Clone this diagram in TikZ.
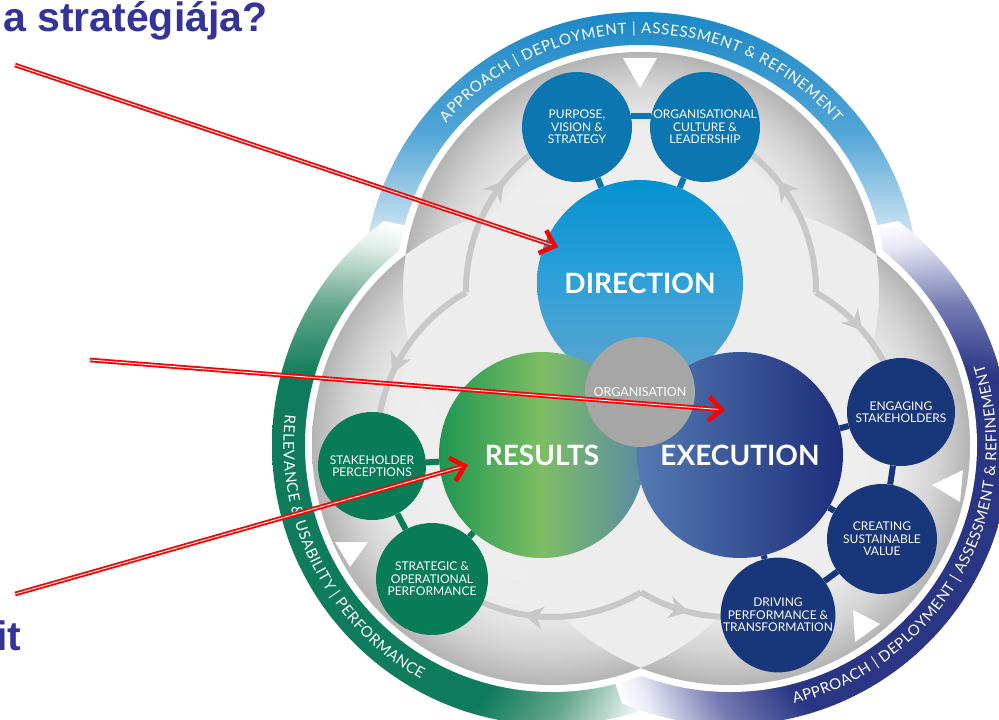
\documentclass[tikz,border=0pt]{standalone}
\usepackage{fontspec}
\setmainfont{Liberation Sans}
\newfontfamily\lato{Lato}
\usetikzlibrary{arrows.meta,decorations.text,decorations.markings}

\definecolor{titleblue}{RGB}{51,51,153}
\definecolor{bandblue}{RGB}{26,136,198}
\definecolor{bandbluemid}{RGB}{80,164,214}
\definecolor{bandbluelow}{RGB}{228,238,247}
\definecolor{bandgreen}{RGB}{14,124,92}
\definecolor{bandgreenmid}{RGB}{100,166,140}
\definecolor{bandgreenlow}{RGB}{228,240,235}
\definecolor{bandnavy}{RGB}{42,54,132}
\definecolor{bandnavymid}{RGB}{116,122,178}
\definecolor{bandnavylow}{RGB}{232,233,245}
\definecolor{discbase}{RGB}{237,237,237}
\definecolor{discin}{RGB}{244,244,244}
\definecolor{discmid}{RGB}{238,238,238}
\definecolor{discrim}{RGB}{212,212,212}
\definecolor{discout}{RGB}{180,180,180}
\definecolor{pblue}{RGB}{12,118,176}
\definecolor{pgreen}{RGB}{8,124,86}
\definecolor{pnavy}{RGB}{24,54,122}
\definecolor{armgrey}{RGB}{200,200,200}
\definecolor{orggrey}{RGB}{167,166,166}
\definecolor{dirtop}{RGB}{4,146,208}
\definecolor{dirmid}{RGB}{48,160,216}
\definecolor{dirbot}{RGB}{96,164,204}
\definecolor{resleft}{RGB}{30,150,80}
\definecolor{resmid}{RGB}{125,190,100}
\definecolor{resright}{RGB}{90,138,166}
\definecolor{exeleft}{RGB}{84,122,178}
\definecolor{exeright}{RGB}{30,46,124}

% radial shadings: the path's box is mapped on the inner 50bp, so 25bp is the rim
\pgfdeclareradialshading{discshade}{\pgfpoint{0bp}{0bp}}{color(0bp)=(discin); color(12bp)=(discmid); color(17bp)=(discbase); color(21.5bp)=(discrim); color(25bp)=(discout); color(50bp)=(discout)}
\pgfdeclareradialshading{gbandshade}{\pgfpoint{0bp}{0bp}}{color(0bp)=(bandgreen); color(14bp)=(bandgreen); color(18.8bp)=(bandgreenmid); color(23.3bp)=(bandgreenlow); color(25bp)=(white); color(50bp)=(white)}
\pgfdeclareradialshading{nbandshade}{\pgfpoint{0bp}{0bp}}{color(0bp)=(bandnavy); color(14bp)=(bandnavy); color(18.8bp)=(bandnavymid); color(23.3bp)=(bandnavylow); color(25bp)=(white); color(50bp)=(white)}

\newcommand\bandfont{\lato\fontsize{15}{15}\selectfont}

\begin{document}
\begin{tikzpicture}[x=1pt,y=-1pt,
  bigc/.style={circle,minimum size=206pt,inner sep=0pt,text=white,font=\lato\bfseries\fontsize{28}{28}\selectfont},
  smallc/.style={circle,minimum size=110pt,inner sep=0pt,text=white,align=center,font=\lato\fontsize{12}{12.5}\selectfont},
  link/.style={line width=6pt},
  greyarm/.style={draw=armgrey,line width=6pt},
  tipat/.style={postaction={decorate},decoration={markings,mark=at position #1 with {\arrow[armgrey]{Stealth[length=20pt,width=22pt,inset=6pt]}}}},
  bandtext/.style={decorate,decoration={text along path,text format delimiters={[}{]},text color=white,text align=fit to path,text={[\bandfont]#1}}},
  redarrow/.style={draw=red,line width=4.6pt,-{Straight Barb[length=13pt,width=24pt]}},
  redcore/.style={draw=white,line width=.9pt,shorten >=7pt},
  ]
 \useasboundingbox (0,0) rectangle (999,720);
 \coordinate (T) at (641,290);
 \coordinate (G) at (552,445);
 \coordinate (N) at (730,445);
 % outer bands
 \begin{scope}
  \clip (T) circle (278);
  \shade[top color=bandblue,bottom color=bandbluelow,middle color=bandbluemid] (340,10) rectangle (940,250);
 \end{scope}
 \begin{scope}
  \clip (G) circle (280);
  \shade[shading=gbandshade] (323,576) circle (360);
 \end{scope}
 \begin{scope}
  \clip (N) circle (280);
  \shade[shading=nbandshade] (959,576) circle (360);
 \end{scope}
 \fill[white] (T) circle (245) (G) circle (247) (N) circle (247);
 % grey discs: flat base, each rim only outside the other two discs
 \fill[discbase] (T) circle (238) (G) circle (240) (N) circle (240);
 \begin{scope}
  \clip (-100,-100) -- (1100,-100) -- (1100,820) -- (-100,820) -- cycle (792,445) arc[start angle=0,end angle=-360,radius=240];
  \clip (-100,-100) -- (1100,-100) -- (1100,820) -- (-100,820) -- cycle (970,445) arc[start angle=0,end angle=-360,radius=240];
  \shade[shading=discshade] (T) circle (238);
 \end{scope}
 \begin{scope}
  \clip (-100,-100) -- (1100,-100) -- (1100,820) -- (-100,820) -- cycle (879,290) arc[start angle=0,end angle=-360,radius=238];
  \clip (-100,-100) -- (1100,-100) -- (1100,820) -- (-100,820) -- cycle (970,445) arc[start angle=0,end angle=-360,radius=240];
  \shade[shading=discshade] (G) circle (240);
 \end{scope}
 \begin{scope}
  \clip (-100,-100) -- (1100,-100) -- (1100,820) -- (-100,820) -- cycle (879,290) arc[start angle=0,end angle=-360,radius=238];
  \clip (-100,-100) -- (1100,-100) -- (1100,820) -- (-100,820) -- cycle (792,445) arc[start angle=0,end angle=-360,radius=240];
  \shade[shading=discshade] (N) circle (240);
 \end{scope}
 % grey arrows
 \draw[greyarm,tipat=.57,shift={(T)}] (179.2:175) arc[start angle=179.2,end angle=248.6,radius=175];
 \draw[greyarm,tipat=.54,shift={(G)}] (240.6:175) arc[start angle=240.6,end angle=173.3,radius=175];
 \draw[greyarm,tipat=.57,shift={(T)}] (0.8:175) arc[start angle=0.8,end angle=-68.6,radius=175];
 \draw[greyarm,tipat=.40,shift={(N)}] (-60.6:175) arc[start angle=-60.6,end angle=-10.9,radius=175];
 \draw[greyarm,tipat=.56,shift={(G)}] (58.9:172) arc[start angle=58.9,end angle=131.8,radius=172];
 \draw[greyarm,tipat=.37,shift={(N)}] (121.1:172) arc[start angle=121.1,end angle=74.2,radius=172];
 % white triangles
 \fill[white] (623,58) -- (657,58) -- (640,88) -- cycle;
 \fill[white] (335,542) -- (368,542) -- (350,567) -- cycle;
 \fill[white] (963,470) -- (960,502) -- (932,485) -- cycle;
 \fill[white] (853,610) -- (855,642) -- (880,624) -- cycle;
 % big circles
 \node[bigc,shade,top color=dirtop,bottom color=dirbot,middle color=dirmid] (dir) at (640,283) {DIRECTION};
 \node[bigc,shade,left color=resleft,right color=resright,middle color=resmid] (res) at (542,455) {RESULTS};
 \node[bigc,shade,left color=exeleft,right color=exeright] (exe) at (740,455) {EXECUTION};
 \node[circle,minimum size=110pt,inner sep=0pt,fill=orggrey,text=white,font=\lato\fontsize{12.5}{13}\selectfont] (org) at (640,392) {ORGANISATION};
 % small circles
 \node[smallc,fill=pblue] (pvs) at (577,127) {PURPOSE,\\VISION \&\\STRATEGY};
 \node[smallc,fill=pblue] (ocl) at (705,127) {ORGANISATIONAL\\CULTURE \&\\LEADERSHIP};
 \node[smallc,fill=pgreen,minimum size=108pt] (shp) at (372,466) {STAKEHOLDER\\PERCEPTIONS};
 \node[smallc,fill=pgreen,minimum size=112pt] (sop) at (432,579) {STRATEGIC \&\\OPERATIONAL\\PERFORMANCE};
 \node[smallc,fill=pnavy,minimum size=108pt] (eng) at (901,412) {ENGAGING\\STAKEHOLDERS};
 \node[smallc,fill=pnavy] (csv) at (882,539) {CREATING\\SUSTAINABLE\\VALUE};
 \node[smallc,fill=pnavy] (dpt) at (778,615) {DRIVING\\PERFORMANCE \&\\TRANSFORMATION};
 \draw[link,pblue] (pvs.12) -- (ocl.168);
 \draw[link,pblue] (pvs) -- (dir);
 \draw[link,pblue] (ocl) -- (dir);
 \draw[link,pgreen] (shp) -- (res);
 \draw[link,pgreen] (shp) -- (sop);
 \draw[link,pgreen] (sop) -- (res);
 \draw[link,pnavy] (eng) -- (exe);
 \draw[link,pnavy] (eng) -- (csv);
 \draw[link,pnavy] (csv) -- (exe);
 \draw[link,pnavy] (csv) -- (dpt);
 \draw[link,pnavy] (dpt) -- (exe);
 % band texts
 \path[bandtext={APPROACH | DEPLOYMENT | ASSESSMENT {\&} REFINEMENT},shift={(T)}] (220.6:256.5) arc[start angle=220.6,end angle=319.4,radius=256.5];
 \path[bandtext={RELEVANCE {\&} USABILITY | PERFORMANCE},shift={(G)}] (186.5:268.5) arc[start angle=186.5,end angle=119.3,radius=268.5];
 \path[bandtext={APPROACH | DEPLOYMENT | ASSESSMENT {\&} REFINEMENT},shift={(N)}] (76.1:266.5) arc[start angle=76.1,end angle=-17.7,radius=266.5];
 % red arrows
 \coordinate (p1) at (15,65);  \coordinate (q1) at (558,247);
 \coordinate (p2) at (90,360); \coordinate (q2) at (725,410);
 \coordinate (p3) at (15,594); \coordinate (q3) at (468,465);
 \foreach \i in {1,2,3} {
  \draw[redarrow] (p\i) -- (q\i);
  \draw[redcore] (p\i) -- (q\i);
 }
 % title pieces
 \node[anchor=base west,inner sep=0pt,text=titleblue,font=\bfseries\fontsize{41}{41}\selectfont] (ttl) at (3,31) {a stratégiája?};
 \node[anchor=base west,inner sep=0pt,text=titleblue,font=\bfseries\fontsize{41}{41}\selectfont] (tail) at (-4,650) {it};
\end{tikzpicture}
\end{document}
